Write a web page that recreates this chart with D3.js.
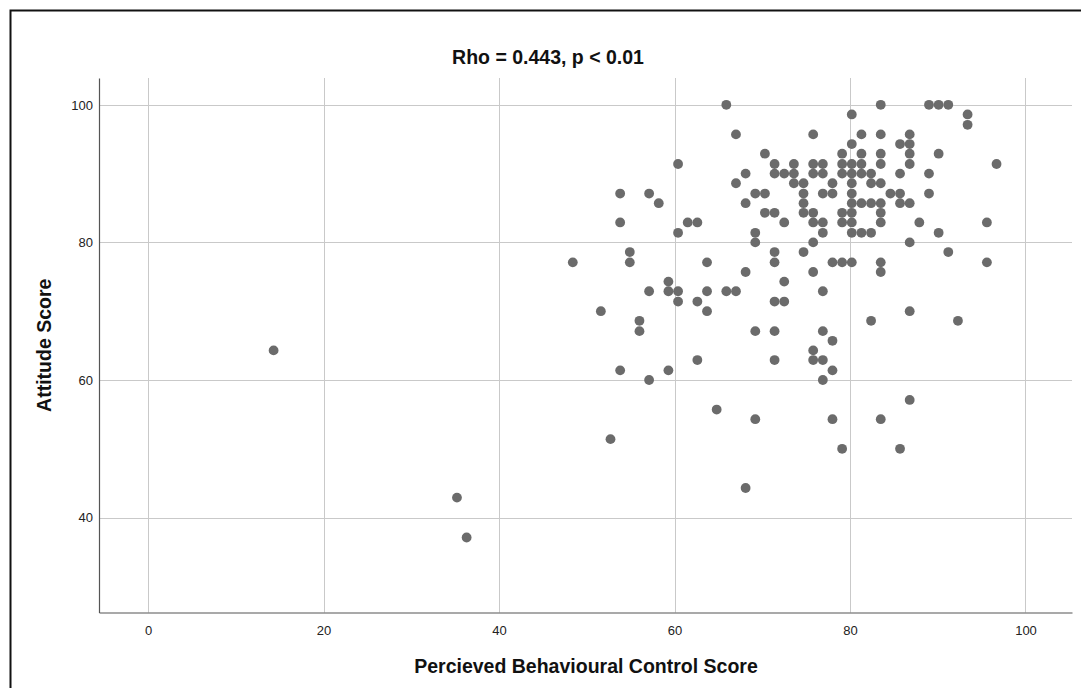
<!DOCTYPE html>
<html>
<head>
<meta charset="utf-8">
<script src="https://cdn.jsdelivr.net/npm/d3@7"></script>
<style>
  html, body { margin: 0; padding: 0; background: #fff; }
  svg { display: block; }
  text { font-family: "Liberation Sans", Arial, sans-serif; }
</style>
</head>
<body>
<svg id="chart" width="1081" height="688"></svg>
<script>
// Attitude score levels (rows) and the perceived behavioural control scores observed at each level
const attitudeLevels = [
  100, 98.6, 97.1, 95.7, 94.3, 92.9, 91.4, 90.0, 88.6, 87.1, 85.7, 84.3, 82.9, 81.4, 80.0,
  78.6, 77.1, 75.7, 74.3, 72.9, 71.4, 70.0, 68.6, 67.1, 65.7, 64.3, 62.9, 61.4, 60.0,
  57.1, 55.7, 54.3, 51.4, 50.0, 44.3, 42.9, 37.1
];
const pbcAtLevel = [
  [65.9, 83.5, 89.0, 90.1, 91.2],
  [80.2, 93.4],
  [93.4],
  [67.0, 75.8, 81.3, 83.5, 86.8],
  [80.2, 85.7, 86.8],
  [70.3, 79.1, 81.3, 83.5, 86.8, 90.1],
  [60.4, 71.4, 73.6, 75.8, 76.9, 79.1, 80.2, 81.3, 83.5, 86.8, 96.7],
  [68.1, 71.4, 72.5, 73.6, 75.8, 76.9, 79.1, 80.2, 81.3, 82.4, 85.7, 89.0],
  [67.0, 73.6, 74.7, 78.0, 80.2, 82.4, 83.5],
  [53.8, 57.1, 69.2, 70.3, 74.7, 76.9, 78.0, 80.2, 84.6, 85.7, 89.0],
  [58.2, 68.1, 74.7, 80.2, 81.3, 82.4, 83.5, 85.7, 86.8],
  [70.3, 71.4, 74.7, 75.8, 79.1, 80.2, 83.5],
  [53.8, 61.5, 62.6, 72.5, 75.8, 76.9, 79.1, 80.2, 83.5, 87.9, 95.6],
  [60.4, 69.2, 76.9, 80.2, 81.3, 82.4, 90.1],
  [69.2, 75.8, 86.8],
  [54.9, 71.4, 74.7, 91.2],
  [48.4, 54.9, 63.7, 71.4, 78.0, 79.1, 80.2, 83.5, 95.6],
  [68.1, 75.8, 83.5],
  [59.3, 72.5],
  [57.1, 59.3, 60.4, 63.7, 65.9, 67.0, 76.9],
  [60.4, 62.6, 71.4, 72.5],
  [51.6, 63.7, 86.8],
  [56.0, 82.4, 92.3],
  [56.0, 69.2, 71.4, 76.9],
  [78.0],
  [14.3, 75.8],
  [62.6, 71.4, 75.8, 76.9],
  [53.8, 59.3, 78.0],
  [57.1, 76.9],
  [86.8],
  [64.8],
  [69.2, 78.0, 83.5],
  [52.7],
  [79.1, 85.7],
  [68.1],
  [35.2],
  [36.3]
];

const xTicks = [0, 20, 40, 60, 80, 100];
const yTicks = [40, 60, 80, 100];
const chartTitle = "Rho = 0.443, p < 0.01";
const xTitle = "Percieved Behavioural Control Score";
const yTitle = "Attitude Score";

const points = attitudeLevels.flatMap((a, i) => pbcAtLevel[i].map(p => ({ pbc: p, attitude: a })));

const svg = d3.select("#chart");

// outer frame
svg.append("rect")
  .attr("x", 10.5).attr("y", 10.5)
  .attr("width", 1080).attr("height", 700)
  .attr("fill", "none").attr("stroke", "#111").attr("stroke-width", 2);

const plot = { left: 99, right: 1072, top: 78, bottom: 612.5 };

const x = d3.scaleLinear().domain([-5.6, 105.3]).range([plot.left, plot.right]);
const y = d3.scaleLinear().domain([26.2, 103.9]).range([plot.bottom, plot.top]);

// grid lines
const grid = svg.append("g").attr("stroke", "#c9c9c9").attr("stroke-width", 1);
grid.selectAll("line.v").data(xTicks).join("line")
  .attr("class", "v")
  .attr("x1", d => Math.round(x(d)) + 0.5).attr("x2", d => Math.round(x(d)) + 0.5)
  .attr("y1", plot.top).attr("y2", plot.bottom);
grid.selectAll("line.h").data(yTicks).join("line")
  .attr("class", "h")
  .attr("x1", plot.left).attr("x2", plot.right)
  .attr("y1", d => Math.round(y(d)) + 0.5).attr("y2", d => Math.round(y(d)) + 0.5);

// axes
const xAxis = d3.axisBottom(x).tickValues(xTicks).tickSize(0).tickPadding(13);
const yAxis = d3.axisLeft(y).tickValues(yTicks).tickSize(0).tickPadding(6);

const gx = svg.append("g").attr("transform", `translate(0,${plot.bottom})`).call(xAxis);
const gy = svg.append("g").attr("transform", `translate(${plot.left},0)`).call(yAxis);

[gx, gy].forEach(g => {
  g.select(".domain").attr("stroke", "#555").attr("stroke-width", 1.2);
  g.selectAll("text")
    .attr("font-family", "'Liberation Sans', Arial, sans-serif")
    .attr("font-size", 13)
    .attr("fill", "#222");
});

// scatter points
svg.append("g")
  .selectAll("circle")
  .data(points)
  .join("circle")
  .attr("cx", d => x(d.pbc))
  .attr("cy", d => y(d.attitude))
  .attr("r", 4.9)
  .attr("fill", "#6b6b6b");

// titles
svg.append("text")
  .attr("x", 548).attr("y", 64)
  .attr("text-anchor", "middle")
  .attr("font-size", 19.5).attr("font-weight", "bold").attr("fill", "#111")
  .text(chartTitle);

svg.append("text")
  .attr("x", 586).attr("y", 673)
  .attr("text-anchor", "middle")
  .attr("font-size", 19.5).attr("font-weight", "bold").attr("fill", "#111")
  .text(xTitle);

svg.append("text")
  .attr("transform", `translate(51,${(plot.top + plot.bottom) / 2}) rotate(-90)`)
  .attr("text-anchor", "middle")
  .attr("font-size", 19.5).attr("font-weight", "bold").attr("fill", "#111")
  .text(yTitle);
</script>
</body>
</html>
